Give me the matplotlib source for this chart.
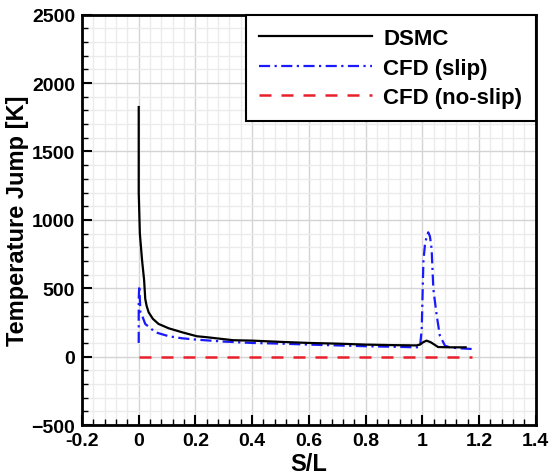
import matplotlib
matplotlib.use("Agg")
import matplotlib.pyplot as plt
from matplotlib.ticker import MultipleLocator

plt.rcParams['font.family'] = ['Liberation Sans', 'DejaVu Sans']
plt.rcParams['font.weight'] = 'bold'

# DSMC
dsmc_x = [0.0, 0.0, 0.004, 0.007, 0.012, 0.019, 0.023, 0.028, 0.035, 0.05, 0.07, 0.106, 0.153,
          0.205, 0.24, 0.333, 0.4, 0.5, 0.6, 0.7, 0.8, 0.9, 0.98, 0.992, 1.003, 1.015, 1.03,
          1.056, 1.1, 1.153]
dsmc_y = [1825, 1200, 900, 824, 700, 560, 422, 370, 324, 276, 239, 207, 178,
          149, 142, 120, 117, 108, 100, 95, 88, 84, 82, 88, 105, 117, 105,
          70, 68, 68]

# CFD slip
slip_x = [0.0, 0.0, 0.002, 0.006, 0.012, 0.023, 0.059, 0.106, 0.153, 0.205, 0.3, 0.4, 0.5,
          0.6, 0.7, 0.8, 0.9, 0.98, 0.992, 0.998, 1.004, 1.01, 1.016, 1.021, 1.027, 1.033,
          1.039, 1.051, 1.062, 1.074, 1.08, 1.1, 1.14, 1.174]
slip_y = [100, 422, 519, 324, 300, 239, 178, 149, 134, 124, 110, 100, 95,
          88, 82, 76, 72, 68, 70, 200, 700, 830, 880, 909, 880, 787,
          495, 300, 154, 105, 80, 66, 60, 56]

# CFD no-slip
noslip_x = [0.0, 1.174]
noslip_y = [0, 0]

fig = plt.figure(figsize=(5.53, 4.77), dpi=100)
ax = fig.add_axes([0.1483, 0.1069, 0.8204, 0.8601])

ax.plot(dsmc_x, dsmc_y, color='black', lw=1.6, label='DSMC', zorder=4)
ax.plot(slip_x, slip_y, color='#1a1aff', lw=1.6, ls=(0, (5, 2, 1, 2)), label='CFD (slip)', zorder=3)
ax.plot(noslip_x, noslip_y, color='#e8202a', lw=1.8, ls=(0, (4.8, 4)), label='CFD (no-slip)', zorder=3)

ax.set_xlim(-0.2, 1.4)
ax.set_ylim(-500, 2500)
ax.xaxis.set_minor_locator(MultipleLocator(0.04))
ax.yaxis.set_major_locator(MultipleLocator(500))
ax.yaxis.set_minor_locator(MultipleLocator(100))
ax.set_xticks([-0.2, 0, 0.2, 0.4, 0.6, 0.8, 1.0, 1.2, 1.4])
ax.set_xticklabels(['-0.2', '0', '0.2', '0.4', '0.6', '0.8', '1', '1.2', '1.4'])

ax.grid(which='major', color='#d4d4d4', lw=1.0, zorder=0)
ax.grid(which='minor', color='#ebebeb', lw=1.0, zorder=0)
ax.set_axisbelow(True)

ax.tick_params(which='major', direction='in', length=7, width=1.5, labelsize=14, pad=5,
               top=False, right=False)
ax.tick_params(which='minor', direction='in', length=4, width=1.0, top=False, right=False)
for s in ax.spines.values():
    s.set_linewidth(2.0)

ax.set_xlabel('S/L', fontsize=17, fontweight='bold', labelpad=2)
ax.set_ylabel('Temperature Jump [K]', fontsize=17, fontweight='bold', labelpad=2)

leg = ax.legend(loc='upper right', fontsize=16, frameon=True, fancybox=False,
                edgecolor='black', framealpha=1, borderaxespad=0, handlelength=5.1,
                handletextpad=0.5, borderpad=0.6, labelspacing=0.38)
leg.get_frame().set_linewidth(1.5)
for t in leg.get_texts():
    t.set_fontweight('bold')

fig.savefig('out.png', dpi=100)
